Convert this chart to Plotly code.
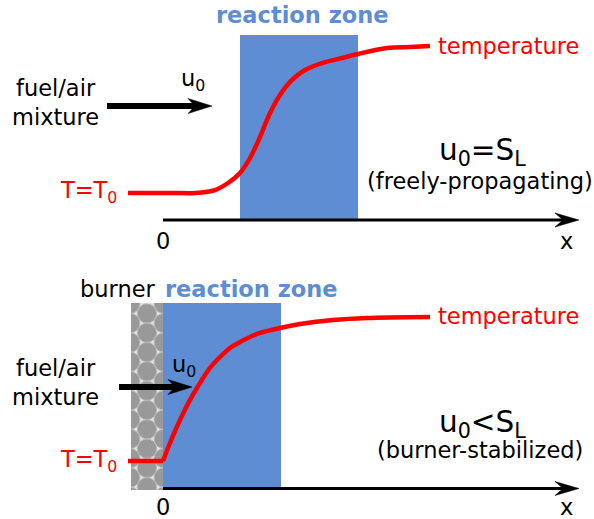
import math
import plotly.graph_objects as go

W, H = 594, 519

# ---------------- data ----------------
# x in units of the flame coordinate (0 = axis origin), T normalised (0 = T0, 1 = final temperature)
top_x = [-0.35, -0.13, 0.12, 0.32, 0.52, 0.65, 0.77, 0.87, 0.97, 1.07, 1.17, 1.29, 1.42, 1.59, 1.79, 1.95, 2.24, 2.47, 2.67]
top_T = [0.0, 0.0, 0.0, 0.0, 0.02, 0.068, 0.136, 0.238, 0.381, 0.544, 0.667, 0.769, 0.837, 0.884, 0.918, 0.946, 0.986, 0.993, 1.0]

bot_flat_x = [-0.35, 0.0]
bot_flat_T = [0.0, 0.0]
bot_x = [0.0, 0.07, 0.17, 0.27, 0.37, 0.47, 0.57, 0.67, 0.77, 0.87, 0.97, 1.17, 1.37, 1.70, 2.04, 2.67]
bot_T = [0.0, 0.125, 0.285, 0.424, 0.542, 0.646, 0.722, 0.785, 0.826, 0.861, 0.889, 0.924, 0.951, 0.979, 0.993, 1.0]

labels_top = ["reaction zone", "fuel/air<br>mixture", "u<sub>0</sub>", "T=T<sub>0</sub>", "temperature",
              "u<sub>0</sub>=S<sub>L</sub>", "(freely-propagating)", "0", "x"]
labels_bot = ["burner", "reaction zone", "fuel/air<br>mixture", "u<sub>0</sub>", "T=T<sub>0</sub>", "temperature",
              "u<sub>0</sub>&lt;S<sub>L</sub>", "(burner-stabilized)", "0", "x"]

# ---------------- helpers (layout positions in pixels) ----------------
def fx(px):
    return px / W

def fy(py):
    return 1 - py / H

ORIGIN_PX = 163
SCALE_X = 100.0
BLUE = "#5f8dd3"
RED = "#ff0000"
FONT = "DejaVu Sans"
FS = 22.5

fig = go.Figure()
fig.add_trace(go.Scatter(x=top_x, y=top_T, mode="lines", line=dict(color=RED, width=4.5, shape="spline", smoothing=1.0),
                         xaxis="x", yaxis="y", hoverinfo="skip", showlegend=False))
fig.add_trace(go.Scatter(x=bot_flat_x, y=bot_flat_T, mode="lines", line=dict(color=RED, width=4.5),
                         xaxis="x", yaxis="y2", hoverinfo="skip", showlegend=False))
fig.add_trace(go.Scatter(x=bot_x, y=bot_T, mode="lines", line=dict(color=RED, width=4.5, shape="spline", smoothing=0.8),
                         xaxis="x", yaxis="y2", hoverinfo="skip", showlegend=False))

shapes = []

def rect(x0, y0, x1, y1, fill, layer="below", line=None):
    shapes.append(dict(type="rect", xref="paper", yref="paper", x0=fx(x0), x1=fx(x1), y0=fy(y1), y1=fy(y0),
                       fillcolor=fill, line=line or dict(width=0), layer=layer))

def hline(x0, x1, y, w):
    shapes.append(dict(type="line", xref="paper", yref="paper", x0=fx(x0), x1=fx(x1), y0=fy(y), y1=fy(y),
                       line=dict(color="black", width=w), layer="above"))

def head(tip, back, notch, y, half):
    p = (f"M {fx(tip)},{fy(y)} L {fx(back)},{fy(y-half)} L {fx(notch)},{fy(y)} "
         f"L {fx(back)},{fy(y+half)} Z")
    shapes.append(dict(type="path", xref="paper", yref="paper", path=p, fillcolor="black",
                       line=dict(color="black", width=0.5), layer="above"))

# burner (porous plug)
rect(131, 303, 163, 490, "#e2e2e2")
d = 19.3
dx = d * math.sqrt(3) / 2
cols = [(147, 0.0), (147 - dx, d / 2), (147 + dx, d / 2)]
for cx, off in cols:
    cy = 313.5 - off
    while cy - d / 2 < 492:
        shapes.append(dict(type="circle", xref="paper", yref="paper",
                           x0=fx(cx - d / 2), x1=fx(cx + d / 2), y0=fy(cy + d / 2), y1=fy(cy - d / 2),
                           fillcolor="#999999", line=dict(color="#b8b8b8", width=1), layer="below"))
        cy += d
# trim circles outside burner
rect(105, 285, 131, 519, "white")
rect(105, 285, 185, 303, "white")
rect(105, 490, 185, 519, "white")

# reaction zones
rect(240, 35, 358, 219, BLUE)
rect(163, 303, 281, 488, BLUE)

# x axes
hline(163, 565, 220, 3)
head(579, 555, 563, 220, 7)
hline(163, 565, 488.5, 3)
head(579, 555, 563, 488.5, 7)

# flow arrows
hline(107, 196, 106, 6)
head(212, 188, 195, 106, 7.5)
hline(119, 176, 387, 6)
head(192, 168, 175, 387, 7.5)

fig.update_layout(shapes=shapes)

ann = []
def text(t, x, y, size, color="black", xa="center", bold=False):
    ann.append(dict(text=f"<b>{t}</b>" if bold else t, x=fx(x), y=fy(y), xref="paper", yref="paper",
                    xanchor=xa, yanchor="middle", showarrow=False,
                    font=dict(family=FONT, size=size, color=color)))

# top panel
text(labels_top[0], 302, 15, FS, BLUE, bold=True)
text(labels_top[1], 55, 102, FS)
text(labels_top[2], 193, 80, FS)
text(labels_top[3], 119, 192, FS, RED, xa="right")
text(labels_top[4], 436, 46, FS, RED, xa="left")
text(labels_top[5], 482, 152, 29.5)
text(labels_top[6], 480, 181, FS)
text(labels_top[7], 163, 241, FS)
text(labels_top[8], 566, 241, FS)

# bottom panel
text(labels_bot[0], 118, 289, FS)
text(labels_bot[1], 251, 289, FS, BLUE, bold=True)
text(labels_bot[2], 55, 382, FS)
text(labels_bot[3], 184, 366, FS)
text(labels_bot[4], 119, 461, FS, RED, xa="right")
text(labels_bot[5], 436, 316, FS, RED, xa="left")
text(labels_bot[6], 482, 424, 29.5)
text(labels_bot[7], 480, 450, FS)
text(labels_bot[8], 163, 507, FS)
text(labels_bot[9], 566, 507, FS)

fig.update_layout(annotations=ann)

# axes: full-figure, calibrated so the data land at the drawn positions
x_range = [(0 - ORIGIN_PX) / SCALE_X, (W - ORIGIN_PX) / SCALE_X]
fig.update_layout(
    width=W, height=H, autosize=False,
    margin=dict(l=0, r=0, t=0, b=0, pad=0),
    paper_bgcolor="white", plot_bgcolor="rgba(0,0,0,0)",
    xaxis=dict(range=x_range, visible=False, domain=[0, 1], fixedrange=True),
    yaxis=dict(range=[(193 - H) / 147.0, 193 / 147.0], visible=False, domain=[0, 1], fixedrange=True),
    yaxis2=dict(range=[(461 - H) / 144.0, 461 / 144.0], visible=False, overlaying="y", fixedrange=True),
    showlegend=False,
)

fig.write_html("out.html", config={"displayModeBar": False},
               post_script="document.body.style.margin='0';document.body.style.overflow='hidden';")
